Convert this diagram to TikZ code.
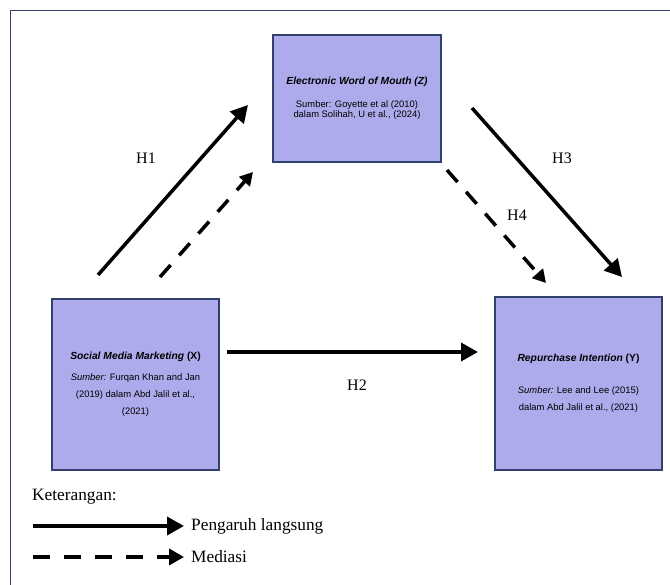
\documentclass[tikz,border=0pt]{standalone}
\usepackage{fontspec}
\setmainfont{Liberation Serif}
\setsansfont{Liberation Sans}
\usepackage{tikz}
\usetikzlibrary{arrows.meta, positioning}
\definecolor{boxfill}{RGB}{174,171,236}
\definecolor{boxline}{RGB}{50,64,110}
\tikzstyle{varbox} = [rectangle, draw=boxline, line width=1.3pt, fill=boxfill,
    align=center, inner sep=2pt, font=\sffamily\fontsize{9.4}{17}\selectfont]
\tikzstyle{direct} = [line width=3.5pt, -{Triangle[length=17pt, width=18pt]}]
\tikzstyle{mediasi} = [line width=3.5pt, dash pattern=on 16pt off 13pt,
    -{Triangle[length=13pt, width=14pt]}]
\tikzstyle{hlabel} = [font=\fontsize{16}{18}\selectfont, inner sep=0pt]
\tikzstyle{legend} = [font=\fontsize{17.3}{19}\selectfont, inner sep=0pt, anchor=west]

\begin{document}
\begin{tikzpicture}[x=1pt, y=-1pt]
            \useasboundingbox (0,0) rectangle (670,585);
            \draw[boxline, line width=0.9pt] (10,600) |- (690,10);

            \node (ewom) [varbox, minimum width=168pt, minimum height=127pt,
                font=\sffamily\fontsize{9.4}{10.5}\selectfont] at (357,98.5)
                {{\fontsize{10.3}{12}\selectfont\textbf{\textit{Electronic Word of Mouth (Z)}}}\\[12pt]
                 Sumber: Goyette et al (2010)\\ dalam Solihah, U et al., (2024)};
            \node (smm) [varbox, minimum width=167pt, minimum height=171pt] at (135.5,384.5)
                {{\fontsize{10.3}{12}\selectfont\textbf{\textit{Social Media Marketing} (X)}}\\[4pt]
                 \textit{Sumber:} Furqan Khan and Jan\\ (2019) dalam Abd Jalil et al.,\\ (2021)};
            \node (ri) [varbox, minimum width=167pt, minimum height=173pt] at (578.5,383.5)
                {{\fontsize{10.3}{12}\selectfont\textbf{\textit{Repurchase Intention} (Y)}}\\[15pt]
                 \textit{Sumber:} Lee and Lee (2015)\\ dalam Abd Jalil et al., (2021)};

            \coordinate (h1a) at (98,275);
            \coordinate (h1b) at (248,105);
            \coordinate (m1a) at (160,277);
            \coordinate (m1b) at (253,172);
            \coordinate (h3a) at (472,108);
            \coordinate (h3b) at (622,277);
            \coordinate (m2a) at (447,170);
            \coordinate (m2b) at (546,283);
            \coordinate (h2a) at (227,352);
            \coordinate (h2b) at (478,352);

            \draw [direct] (h1a) -- (h1b);
            \draw [mediasi] (m1a) -- (m1b);
            \draw [direct] (h3a) -- (h3b);
            \draw [mediasi] (m2a) -- (m2b);
            \draw [direct] (h2a) -- (h2b);

            \node (lh1) [hlabel] at (146,158) {H1};
            \node (lh2) [hlabel] at (357,385) {H2};
            \node (lh3) [hlabel] at (562,158) {H3};
            \node (lh4) [hlabel] at (517,215) {H4};

            \node (ket) [legend] at (32,497) {Keterangan:};
            \coordinate (l1a) at (33,526);
            \coordinate (l1b) at (184,526);
            \coordinate (l2a) at (33,557);
            \coordinate (l2b) at (184,557);
            \draw [direct] (l1a) -- (l1b);
            \draw [line width=3.5pt, dash pattern=on 17pt off 14pt,
                -{Triangle[length=15pt, width=16pt]}] (l2a) -- (l2b);
            \node (lang) [legend, right=7pt of l1b] {Pengaruh langsung};
            \node (med) [legend, right=7pt of l2b] {Mediasi};
        \end{tikzpicture}
\end{document}
